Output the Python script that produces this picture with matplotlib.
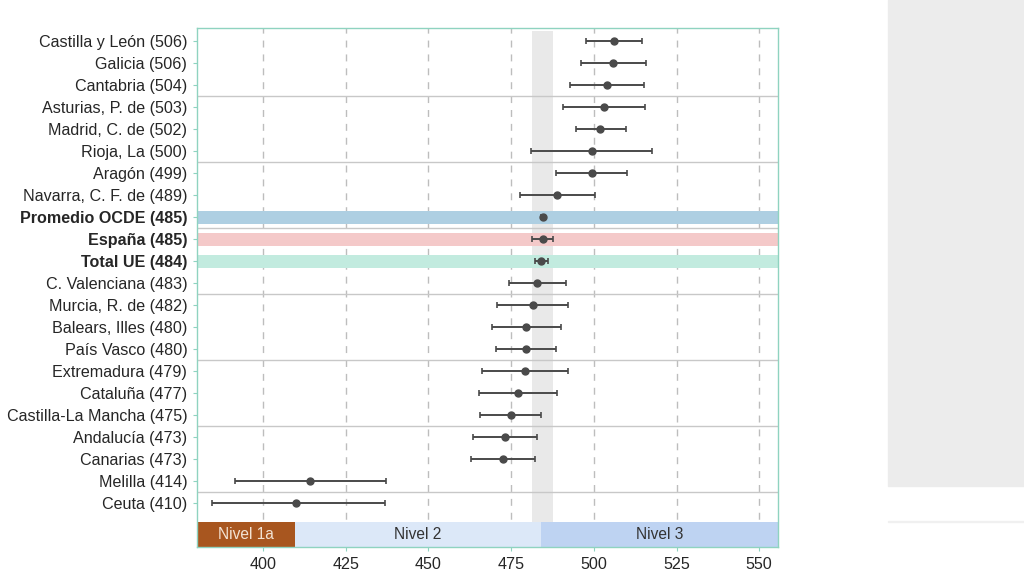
import numpy as np
import matplotlib.pyplot as plt
from matplotlib.patches import Rectangle

plt.rcParams['font.family'] = ['Liberation Sans', 'DejaVu Sans']

regiones = ['Castilla y León (506)', 'Galicia (506)', 'Cantabria (504)',
            'Asturias, P. de (503)', 'Madrid, C. de (502)', 'Rioja, La (500)',
            'Aragón (499)', 'Navarra, C. F. de (489)', 'Promedio OCDE (485)',
            'España (485)', 'Total UE (484)', 'C. Valenciana (483)',
            'Murcia, R. de (482)', 'Balears, Illes (480)', 'País Vasco (480)',
            'Extremadura (479)', 'Cataluña (477)', 'Castilla-La Mancha (475)',
            'Andalucía (473)', 'Canarias (473)', 'Melilla (414)', 'Ceuta (410)']
media = [506.2, 505.8, 503.9, 503.1, 502.0, 499.4, 499.4, 488.9, 484.6,
         484.5, 484.1, 482.7, 481.5, 479.5, 479.4, 479.2, 477.1, 474.9,
         473.2, 472.5, 414.3, 410.0]
inferior = [497.6, 496.1, 492.9, 490.7, 494.5, 481.1, 488.7, 477.6, 484.0,
            481.3, 482.2, 474.3, 470.7, 469.3, 470.3, 466.3, 465.4, 465.7,
            463.6, 462.9, 391.4, 384.5]
superior = [514.7, 515.8, 515.1, 515.5, 509.6, 517.7, 510.1, 500.2, 485.2,
            487.5, 486.2, 491.6, 492.2, 490.0, 488.5, 492.1, 488.9, 484.0,
            482.7, 482.1, 437.1, 436.7]

# filas destacadas y su color de fondo
destacadas = {'Promedio OCDE (485)': '#aecfe2',
              'España (485)': '#f4c9c9',
              'Total UE (484)': '#c2ebdf'}

# niveles de rendimiento (límites)
niveles = ['Nivel 1a', 'Nivel 2', 'Nivel 3']
limites = [334.94, 409.54, 484.14, 558.73]
col_niveles = ['#a8561f', '#dce8f8', '#bed3f2']
col_texto = ['#f3e3d3', '#333333', '#333333']

n = len(regiones)
y = np.arange(n)
media = np.array(media)
inferior = np.array(inferior)
superior = np.array(superior)

fig = plt.figure(figsize=(10.24, 5.76), dpi=100)
ax = fig.add_axes([0.1924, 0.0503, 0.5674, 0.9011])

ax.set_xlim(380, 555.7)
ax.set_ylim(23.0, -0.6)

# banda gris vertical (intervalo de España)
i_es = regiones.index('España (485)')
ax.fill_between([inferior[i_es], superior[i_es]], -0.45, 21.86,
                color='#e9e9e9', zorder=0, lw=0)

# rejilla vertical discontinua
for xv in [400, 425, 450, 475, 500, 525, 550]:
    ax.axvline(xv, color='#bdbdbd', lw=1, ls=(0, (5, 5)), zorder=0.5)

# filas destacadas
for nombre, c in destacadas.items():
    i = regiones.index(nombre)
    ax.axhspan(i - 0.3, i + 0.3, color=c, zorder=1, lw=0)

# separadores de grupo
for s in np.arange(2.5, n - 1, 3):
    ax.axhline(s, color='#c8c8c8', lw=1, zorder=1)

# intervalos y medias
ax.errorbar(media, y, xerr=[media - inferior, superior - media], fmt='o',
            color='#4a4a4a', ms=5, elinewidth=1.4, capsize=2.5,
            capthick=1.2, zorder=3)

# bandas de nivel
for nom, a, b, c, ct in zip(niveles, limites[:-1], limites[1:], col_niveles, col_texto):
    ax.add_patch(Rectangle((a, 21.86), b - a, 1.14, color=c, zorder=2, lw=0))
    xa, xb = max(a, 380), min(b, 555.7)
    ax.text((xa + xb) / 2, 22.43, nom, ha='center', va='center',
            fontsize=11.2, color=ct, zorder=3)

ax.set_yticks(y)
ax.set_yticklabels(regiones, fontsize=11.6, color='#262626')
for lab in ax.get_yticklabels():
    if lab.get_text() in destacadas:
        lab.set_fontweight('bold')
ax.set_xticks([400, 425, 450, 475, 500, 525, 550])
ax.tick_params(axis='x', labelsize=11.6, colors='#8fd3c0', labelcolor='#262626',
               length=3, pad=4)
ax.tick_params(axis='y', colors='#8fd3c0', labelcolor='#262626', length=3, pad=4)
for sp in ax.spines.values():
    sp.set_color('#8fd3c0')
    sp.set_linewidth(1)

# panel gris a la derecha
fig.patches.append(Rectangle((888 / 1024, 1 - 486 / 576), 136 / 1024, 486 / 576,
                             transform=fig.transFigure, color='#ececec', zorder=-1))
fig.patches.append(Rectangle((888 / 1024, 1 - 522 / 576), 136 / 1024, 1.5 / 576,
                             transform=fig.transFigure, color='#f0f0f0', zorder=-1))

fig.savefig('out.png', dpi=100)
